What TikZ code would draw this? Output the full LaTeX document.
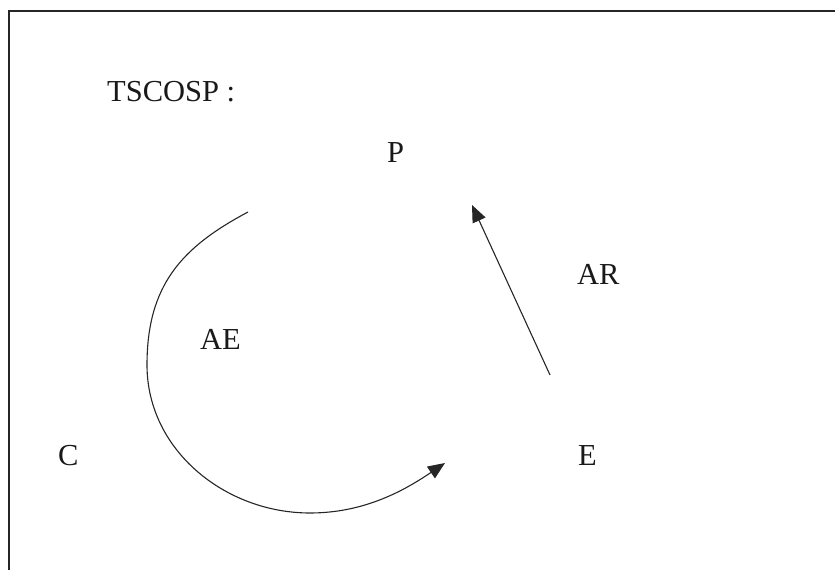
\documentclass[tikz,border=0pt]{standalone}
\usepackage{fontspec}
\setmainfont{Liberation Serif}
\usetikzlibrary{arrows.meta}
\begin{document}
\begin{tikzpicture}[x=1pt,y=1pt,
  lbl/.style={anchor=base west,inner sep=0pt,font=\fontsize{30.5}{36}\selectfont,text=black!90},
  frame/.style={line width=2pt,draw=black!85},
  conn/.style={line width=1.1pt,draw=black!85,-{Triangle[length=17pt,width=14pt]}}]
\useasboundingbox (0,0) rectangle (835,570);
\clip (0,0) rectangle (835,570);
\draw[frame] (9,-10) -- (9,558.5) -- (845,558.5);
\node[lbl] (title) at (107,468) {TSCOSP :};
\node[lbl] (p) at (387,407) {P};
\node[lbl] (ar) at (577,285) {AR};
\node[lbl] (ae) at (200,220) {AE};
\node[lbl] (c) at (58,104) {C};
\node[lbl] (e) at (578,104) {E};
\coordinate (arS) at (550,195);
\coordinate (arT) at (472,365);
\coordinate (aeS) at (248,358);
\coordinate (aeL) at (147,205);
\coordinate (aeB) at (310,57);
\coordinate (aeT) at (445,107);
\draw[conn] (aeS) .. controls (181.8,322.8) and (147,285) .. (aeL)
  .. controls (147,120) and (225,57) .. (aeB)
  .. controls (365,57) and (405,80) .. (aeT);
\draw[conn] (arS) -- (arT);
\end{tikzpicture}
\end{document}
